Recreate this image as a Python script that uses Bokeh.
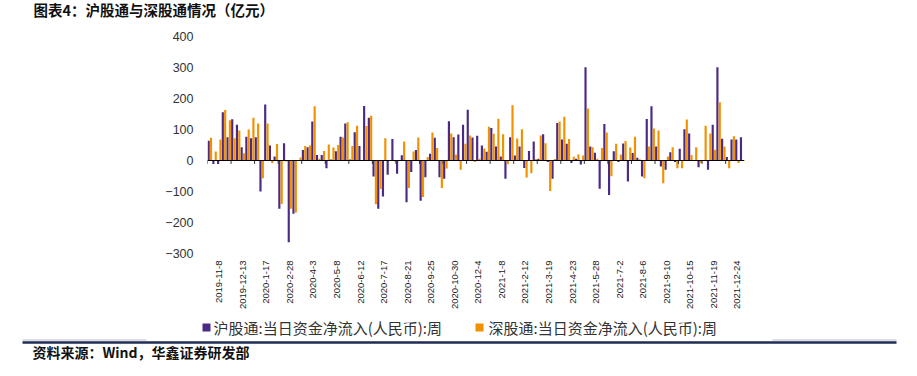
import math
from bokeh.plotting import figure
from bokeh.models import Range1d, FixedTicker, Span, ColumnDataSource
from bokeh.layouts import column
from bokeh.core.properties import value
from bokeh.embed import file_html
from bokeh.resources import INLINE

title_text = "图表4：沪股通与深股通情况（亿元）"
source_text = "资料来源：Wind，华鑫证券研发部"
name_sh = "沪股通:当日资金净流入(人民币):周"
name_sz = "深股通:当日资金净流入(人民币):周"

tick_labels = ["2019-11-8", "2019-12-13", "2020-1-17", "2020-2-28", "2020-4-3", "2020-5-8",
               "2020-6-12", "2020-7-17", "2020-8-21", "2020-9-25", "2020-10-30", "2020-12-4",
               "2021-1-8", "2021-2-12", "2021-3-19", "2021-4-23", "2021-5-28", "2021-7-2",
               "2021-8-6", "2021-9-10", "2021-10-15", "2021-11-19", "2021-12-24"]
label_every = 5

sh = [64, -11, -11, 156, 75, 133, 115, 43, 77, 72,
      75, -100, 181, 48, 13, -156, 56, -264, -172, 2,
      34, 43, 126, 18, 18, -25, 3, 30, 77, 119,
      3, 91, 47, 176, 138, -52, -156, -116, -46, 69,
      -43, 17, -135, -37, 34, -130, -54, 22, 73, -54,
      -59, 127, 75, 84, 115, 164, 74, 80, 48, 28,
      105, 45, 13, -59, 75, 16, 45, -24, 31, 61,
      6, 85, -5, -59, 121, 68, 54, -8, 6, -13,
      301, 45, 25, -91, 118, -111, 30, -5, 55, -68,
      24, 9, -52, 134, 175, 45, -19, -30, 27, -5,
      38, 101, 87, 2, -22, 2, -30, 115, 301, 70,
      11, 68, 68, 75]
sz = [73, 29, 68, 163, 130, 72, 97, 23, 100, 138,
      119, -57, 119, -8, 53, -140, -3, -156, -168, 10,
      47, 48, 175, 6, 31, 52, 42, 50, 74, 123,
      47, 112, 2, 111, 144, -141, -92, 72, 2, -3,
      2, 61, -89, 29, 74, -118, 11, 90, 40, -89,
      -26, 87, 19, -30, 54, 81, -5, 6, 39, 109,
      86, 135, 85, -12, 178, 71, 101, -55, -41, 5,
      81, 56, -98, 5, 126, 141, 69, 12, 19, 16,
      168, 43, 6, 40, 90, -51, 54, 19, 63, 42,
      77, 4, -57, 45, 103, 97, -73, 13, 43, -25,
      -25, 132, 18, 43, -8, 112, 87, 35, 188, 45,
      -25, 78, -8, 2]

y_ticks = [-300, -200, -100, 0, 100, 200, 300, 400]

PURPLE = "#4B2A86"
ORANGE = "#F29100"
W = 917

n = len(sh)
idx = list(range(n))
src = ColumnDataSource(dict(x_sh=[i - 0.25 for i in idx], x_sz=[i + 0.25 for i in idx], sh=sh, sz=sz))

# ---------- header ----------
hdr = figure(width=W, height=18, x_range=Range1d(0, W), y_range=Range1d(18, 0),
             output_backend="svg", toolbar_location=None, min_border=0,
             x_axis_location=None, y_axis_location=None, outline_line_color=None,
             frame_align=False)
hdr.grid.visible = False
hdr.text(x=[33], y=[8.5], text=[title_text], text_font=value("Noto Sans CJK SC"),
         text_font_style="bold", text_font_size="14.5px", text_baseline="middle",
         text_align="left", text_color="#111111")

# ---------- main chart ----------
p = figure(width=W, height=299, x_range=Range1d(-0.5, n - 0.5), y_range=Range1d(-300, 400),
           output_backend="svg", toolbar_location=None,
           min_border_left=207, min_border_right=173, min_border_top=18, min_border_bottom=64,
           outline_line_color=None, frame_align=False)
p.grid.visible = False

r_sh = p.vbar(x="x_sh", top="sh", bottom=0, width=0.46, source=src, fill_color=PURPLE, line_color=None)
r_sz = p.vbar(x="x_sz", top="sz", bottom=0, width=0.46, source=src, fill_color=ORANGE, line_color=None)

p.add_layout(Span(location=0, dimension="width", line_color="#000000", line_width=1.2))

tick_pos = [label_every * k - 0.5 for k in range(len(tick_labels))]
p.segment(x0=tick_pos, y0=[0] * len(tick_pos), x1=tick_pos, y1=[-11] * len(tick_pos),
          line_color="#333333", line_width=1)

label_pos = [label_every * k + 2 for k in range(len(tick_labels))]
xa = p.xaxis[0]
xa.ticker = FixedTicker(ticks=label_pos)
xa.major_label_overrides = {pos: lab for pos, lab in zip(label_pos, tick_labels)}
xa.major_label_orientation = math.pi / 2
xa.axis_line_color = None
xa.major_tick_line_color = None
xa.minor_tick_line_color = None
xa.major_tick_out = 0
xa.major_tick_in = 0
xa.major_label_standoff = 7
xa.major_label_text_font = "Liberation Sans"
xa.major_label_text_font_size = "9.5px"
xa.major_label_text_color = "#1a1a1a"

ya = p.yaxis[0]
ya.ticker = FixedTicker(ticks=y_ticks)
ya.axis_line_color = None
ya.major_tick_line_color = None
ya.minor_tick_line_color = None
ya.major_tick_out = 0
ya.major_tick_in = 0
ya.major_label_standoff = 14
ya.major_label_text_font = "Liberation Sans"
ya.major_label_text_font_size = "12.5px"
ya.major_label_text_color = "#333333"

# ---------- footer (legend, rule, source) ----------
FH = 59
ftr = figure(width=W, height=FH, x_range=Range1d(0, W), y_range=Range1d(FH, 0),
             output_backend="svg", toolbar_location=None, min_border=0,
             x_axis_location=None, y_axis_location=None, outline_line_color=None,
             frame_align=False)
ftr.grid.visible = False
ftr.scatter(x=[206, 479], y=[10, 10], marker="square", size=8,
            fill_color=[PURPLE, ORANGE], line_color=None)
ftr.text(x=[213, 488], y=[10, 10], text=[name_sh, name_sz], text_font=value("Noto Sans CJK SC"),
         text_font_size="15px", text_baseline="middle", text_align="left", text_color="#333333")

ftr.segment(x0=[22, 772], y0=[22.5, 22.5], x1=[146, 896], y1=[22.5, 22.5], line_color="#B8BCC8", line_width=1)
ftr.segment(x0=[22], y0=[25], x1=[896], y1=[25], line_color="#1F2D55", line_width=2.5)
ftr.text(x=[32], y=[34], text=[source_text], text_font=value("Noto Sans CJK SC"),
         text_font_style="bold", text_font_size="14px", text_baseline="middle",
         text_align="left", text_color="#111111")

layout = column(hdr, p, ftr, spacing=0)
open("out.html", "w").write(file_html(layout, INLINE))
